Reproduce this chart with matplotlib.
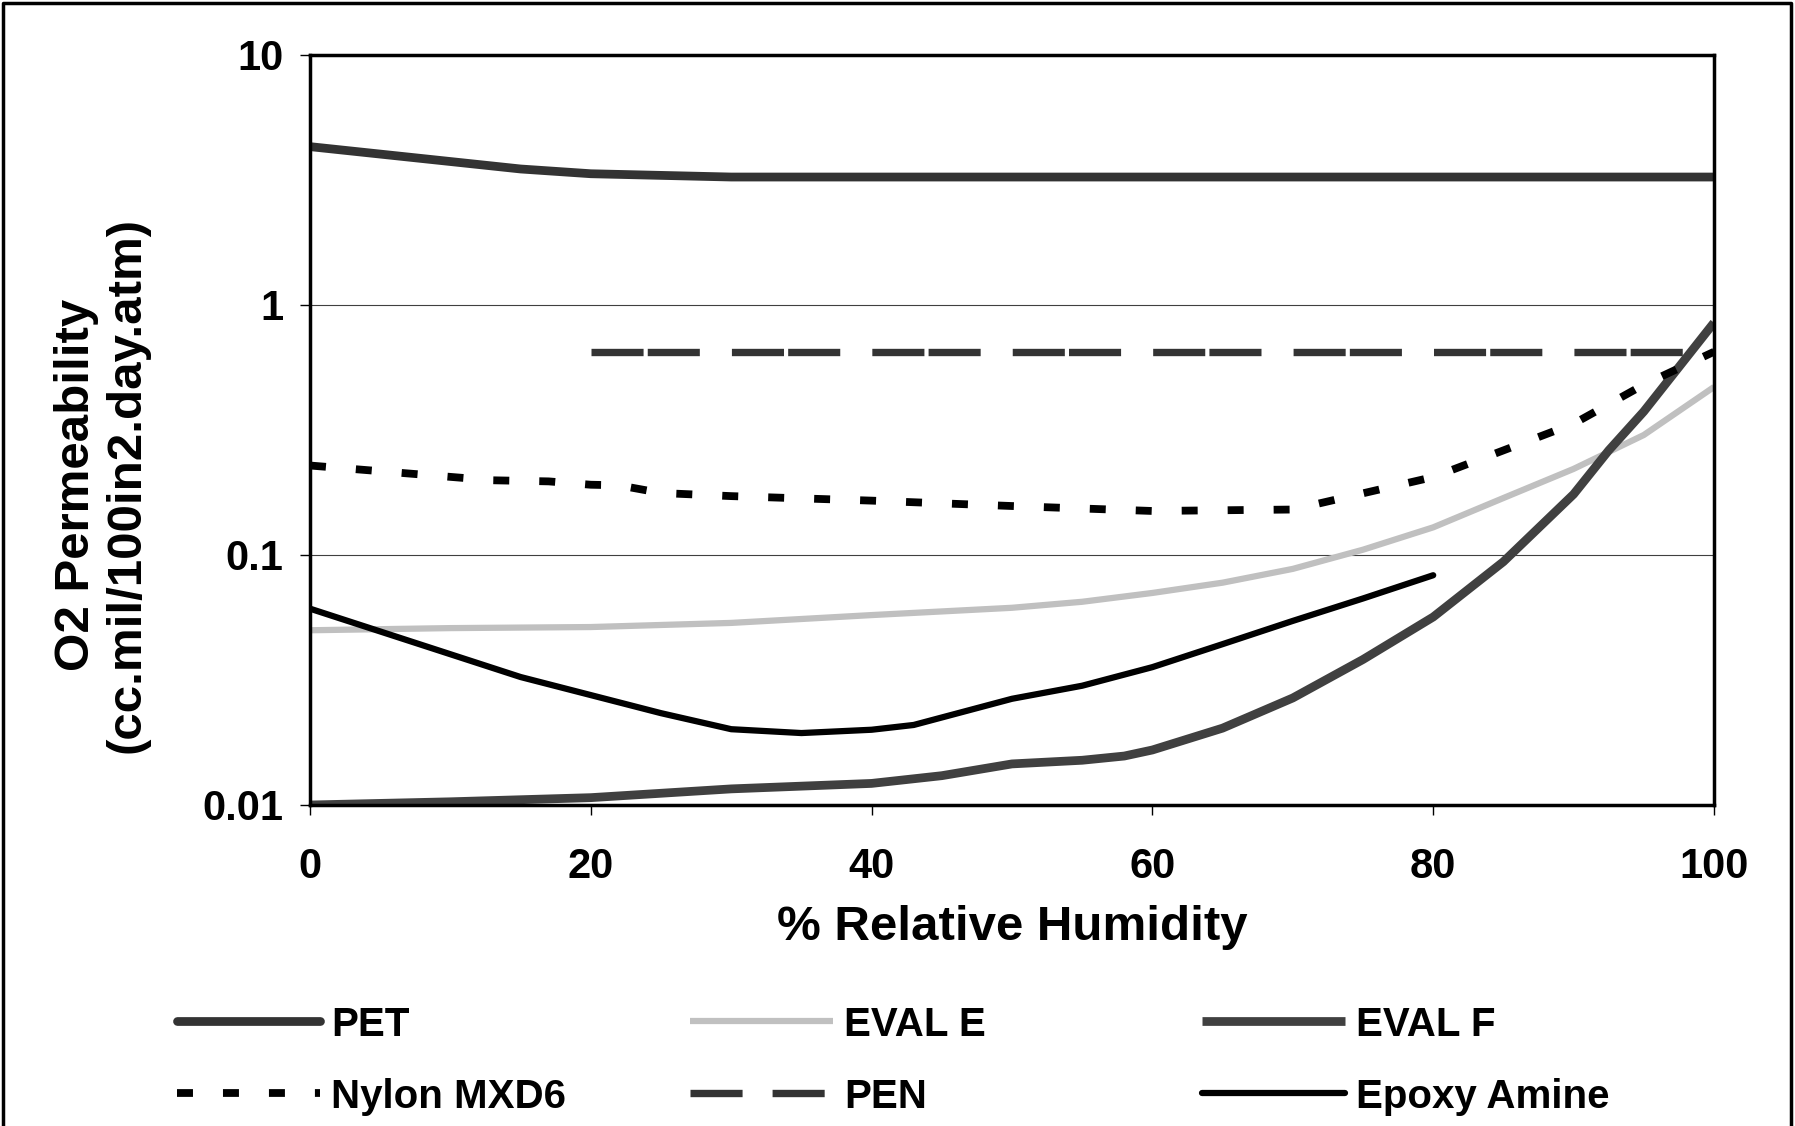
import numpy as np
import matplotlib.pyplot as plt
from matplotlib.lines import Line2D
from matplotlib.ticker import NullLocator

plt.rcParams['font.family'] = ['Liberation Sans', 'DejaVu Sans']
plt.rcParams['font.weight'] = 'bold'
plt.rcParams['lines.scale_dashes'] = False

# O2 permeability (cc.mil/100in2.day.atm) against % relative humidity
pet_rh = [0, 15, 20, 30, 40, 50, 60, 70, 80, 90, 100]
pet = [4.3, 3.5, 3.35, 3.25, 3.25, 3.25, 3.25, 3.25, 3.25, 3.25, 3.25]

evale_rh = [0, 10, 20, 30, 40, 50, 55, 60, 65, 70, 75, 80, 85, 90, 95, 100]
evale = [0.050, 0.051, 0.0515, 0.0535, 0.0575, 0.0615, 0.065, 0.0705,
         0.0775, 0.088, 0.105, 0.129, 0.169, 0.221, 0.302, 0.47]

evalf_rh = [0, 10, 20, 30, 40, 45, 50, 55, 58, 60, 65, 70, 75, 80, 85, 90,
            92.5, 95, 100]
evalf = [0.0100, 0.0103, 0.0107, 0.0116, 0.0122, 0.0131, 0.0146, 0.0151,
         0.0157, 0.0166, 0.0203, 0.0268, 0.0382, 0.0565, 0.094, 0.175,
         0.262, 0.375, 0.85]

nylon_rh = [0, 13, 17, 20, 22, 25, 30, 40, 50, 60, 70, 80, 90, 95, 100]
nylon = [0.228, 0.199, 0.197, 0.191, 0.190, 0.177, 0.172, 0.165, 0.157,
         0.150, 0.152, 0.205, 0.335, 0.48, 0.65]

pen_rh = [20, 30, 40, 50, 60, 70, 80, 90, 100]
pen = [0.65, 0.65, 0.65, 0.65, 0.65, 0.65, 0.65, 0.65, 0.65]

epoxy_rh = [0, 15, 25, 30, 35, 40, 43, 50, 55, 60, 65, 70, 75, 80]
epoxy = [0.061, 0.0325, 0.0233, 0.0201, 0.0194, 0.0200, 0.0209, 0.0266,
         0.030, 0.0356, 0.044, 0.0545, 0.067, 0.083]

names = ['PET', 'EVAL E', 'EVAL F', 'Nylon MXD6', 'PEN', 'Epoxy Amine']
series = [(pet_rh, pet), (evale_rh, evale), (evalf_rh, evalf),
          (nylon_rh, nylon), (pen_rh, pen), (epoxy_rh, epoxy)]
styles = [
    dict(color='#333333', lw=6.3, solid_capstyle='round', solid_joinstyle='round'),
    dict(color='#c0c0c0', lw=4.5, solid_capstyle='butt'),
    dict(color='#404040', lw=6.3, solid_capstyle='butt'),
    dict(color='black', lw=5.6, dashes=(11.5, 21.6)),
    dict(color='#333333', lw=5.3, dashes=(37.5, 3.0, 37.5, 23.1)),
    dict(color='black', lw=4.5, solid_capstyle='round', solid_joinstyle='round'),
]
# legend samples use shorter dash cycles
legend_styles = [dict(st) for st in styles]
legend_styles[4]['dashes'] = (37.5, 21.6)

W, H = 1795, 1126
fig = plt.figure(figsize=(W / 100, H / 100), dpi=100)
ax = fig.add_axes([310 / W, 1 - 805 / H, 1404 / W, 750 / H])

for (x, y), st in zip(series, styles):
    ax.plot(x, y, **st)

ax.set_yscale('log')
ax.set_xlim(0, 100)
ax.set_ylim(0.01, 10)
ax.set_xticks([0, 20, 40, 60, 80, 100])
ax.set_yticks([0.01, 0.1, 1, 10])
ax.set_yticklabels(['0.01', '0.1', '1', '10'])
ax.yaxis.set_minor_locator(NullLocator())
ax.tick_params(axis='both', direction='out', length=7, width=1, labelsize=30)
ax.tick_params(axis='x', pad=23)
ax.tick_params(axis='y', pad=12)
ax.yaxis.grid(True, which='major', color='#404040', lw=0.8)
ax.set_axisbelow(True)
for sp in ax.spines.values():
    sp.set_linewidth(2.5)

ax.set_xlabel('% Relative Humidity', fontsize=35.5, fontweight='bold')
ax.xaxis.set_label_coords(0.5, -0.163)
ax.xaxis.label.set_va('center')

fig.text(102 / W, 1 - 485 / H, 'O2 Permeability\n(cc.mil/100in2.day.atm)',
         rotation=90, ha='center', va='center', multialignment='center',
         fontsize=35.5, fontweight='bold', linespacing=1.17)

# legend: three columns, two rows
col_x = [177, 690, 1202]
row_y = [1021, 1093]
for i, (name, st) in enumerate(zip(names, legend_styles)):
    cx = col_x[i % 3]
    cy = 1 - row_y[i // 3] / H
    fig.add_artist(Line2D([cx / W, (cx + 143) / W], [cy, cy],
                          transform=fig.transFigure, **st))
    fig.text((cx + 154) / W, cy, name, ha='left', va='center_baseline',
             fontsize=29, fontweight='bold')

# outer chart border, open at the bottom
fig.add_artist(Line2D([2.5 / W, 2.5 / W, 1791 / W, 1791 / W],
                      [-0.01, 1 - 2.5 / H, 1 - 2.5 / H, -0.01],
                      transform=fig.transFigure, color='black', lw=2.5))

fig.savefig('out.png', dpi=100)
